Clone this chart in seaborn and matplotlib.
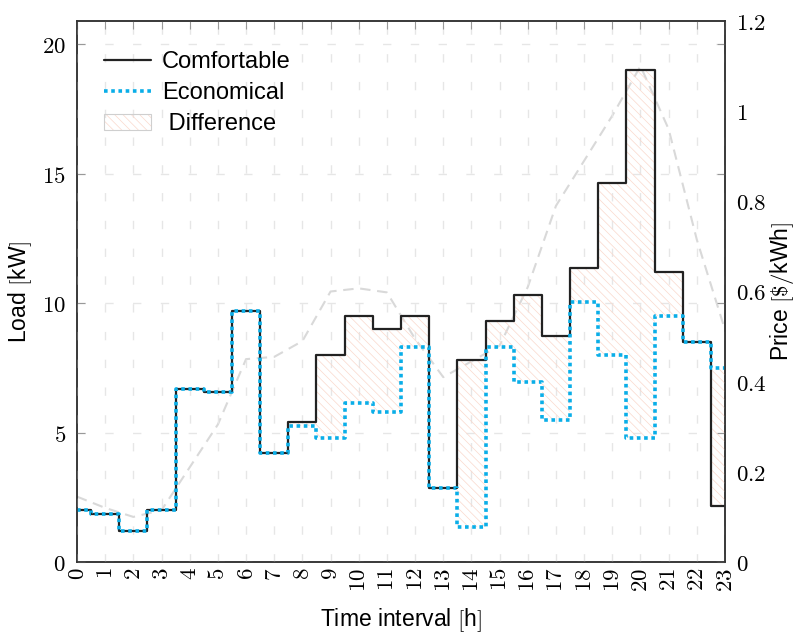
import matplotlib
matplotlib.use('Agg')
import matplotlib.pyplot as plt
import numpy as np
import pandas as pd
import seaborn as sns
from matplotlib.patches import Patch
from matplotlib.lines import Line2D
from matplotlib.ticker import FuncFormatter, FixedLocator

# ---- data ----
hours = list(range(24))
comfortable = [2.0, 1.85, 1.2, 2.0, 6.7, 6.55, 9.7, 4.2, 5.4, 8.0, 9.5, 9.0,
               9.5, 2.85, 7.8, 9.3, 10.3, 8.75, 11.35, 14.65, 19.0, 11.2, 8.5, 2.15]
economical = [2.0, 1.85, 1.2, 2.0, 6.7, 6.55, 9.7, 4.2, 5.25, 4.8, 6.15, 5.8,
              8.3, 2.85, 1.35, 8.3, 6.95, 5.5, 10.05, 8.0, 4.8, 9.5, 8.5, 7.5]
price = [0.145, 0.12, 0.10, 0.115, 0.21, 0.305, 0.45, 0.455, 0.49, 0.60, 0.607, 0.598,
         0.495, 0.41, 0.445, 0.48, 0.61, 0.79, 0.89, 0.99, 1.10, 0.96, 0.715, 0.515]
load_ticks = [0, 5, 10, 15, 20]
price_ticks = [0, 0.2, 0.4, 0.6, 0.8, 1.0, 1.2]
series_labels = ['Comfortable', 'Economical', ' Difference']

df = pd.DataFrame({'hour': hours, 'comfortable': comfortable,
                   'economical': economical, 'price': price})

sns.set_style('white')
plt.rcParams['font.family'] = ['Liberation Sans', 'DejaVu Sans']
plt.rcParams['mathtext.fontset'] = 'cm'
plt.rcParams['hatch.linewidth'] = 0.5
plt.rcParams['text.color'] = 'black'
plt.rcParams['axes.labelcolor'] = 'black'
plt.rcParams['xtick.labelcolor'] = 'black'
plt.rcParams['ytick.labelcolor'] = 'black'

FS = 16.5
HATCH_C = '#fad8cc'
fig = plt.figure(figsize=(8.01, 6.41), dpi=100)
ax = fig.add_axes([77 / 801, 79 / 641, 648 / 801, 541 / 641])
ax2 = ax.twinx()
ax.set_zorder(ax2.get_zorder() + 1)
ax.patch.set_visible(False)

# price (secondary axis)
sns.lineplot(data=df, x='hour', y='price', ax=ax2, color='#d9d9d9', lw=1.5)
for ln in ax2.get_lines():
    ln.set_linestyle((0, (5, 3.2)))
ax2.set_ylim(0, 1.2)
ax2.set_xlim(0, 23)

# difference hatch
ax.fill_between(df['hour'], df['economical'], df['comfortable'], step='mid',
                facecolor='none', edgecolor=HATCH_C, hatch='\\\\\\\\', linewidth=0)

sns.lineplot(data=df, x='hour', y='comfortable', ax=ax, color='#222222', lw=1.6,
             drawstyle='steps-mid')
sns.lineplot(data=df, x='hour', y='economical', ax=ax, color='#0aaee8', lw=2.6,
             drawstyle='steps-mid')
lines = ax.get_lines()
lines[-1].set_linestyle((0, (1, 1)))
lines[-1].set_dash_capstyle('butt')

ax.set_xlim(0, 23)
ax.set_ylim(0, 20.9)

# grid
ax.xaxis.set_major_locator(FixedLocator(hours))
ax.yaxis.set_major_locator(FixedLocator(load_ticks))
ax.grid(True, color='#e6e6e6', lw=1.0, linestyle=(0, (6, 14)))
ax.set_axisbelow(True)

mathfmt = FuncFormatter(lambda v, p: '$%g$' % v)
ax.xaxis.set_major_formatter(mathfmt)
ax.yaxis.set_major_formatter(mathfmt)
ax2.yaxis.set_major_locator(FixedLocator(price_ticks))
ax2.yaxis.set_major_formatter(mathfmt)

ax.tick_params(axis='x', direction='in', length=6, color='#999999', top=True,
               labelsize=FS, labelrotation=90, pad=4)
ax.tick_params(axis='y', direction='in', length=6, color='#999999', right=True,
               labelsize=FS, pad=8)
ax2.tick_params(axis='y', length=0, labelsize=FS, pad=8)

for a in (ax, ax2):
    for s in a.spines.values():
        s.set_color('#333333')
        s.set_linewidth(1.1)

ax.set_xlabel('Time interval $[$h$]$', fontsize=FS, labelpad=10)
ax.set_ylabel('Load $[$kW$]$', fontsize=FS, labelpad=6)
ax2.set_ylabel('Price $[\\$/$kWh$]$', fontsize=FS, labelpad=1)

handles = [
    Line2D([], [], color='#222222', lw=1.6),
    Line2D([], [], color='#0aaee8', lw=2.6, linestyle=(0, (1, 1)), dash_capstyle='butt'),
    (Patch(facecolor='none', edgecolor=HATCH_C, hatch='\\\\\\\\', linewidth=0),
     Patch(facecolor='none', edgecolor='#cfcfcf', linewidth=0.8)),
]
ax.legend(handles, series_labels, loc='upper left', bbox_to_anchor=(0.02, 0.97),
          frameon=False, fontsize=FS + 0.5, handlelength=2.0, handletextpad=0.45,
          labelspacing=0.38, borderaxespad=0.2)

fig.savefig('out.png', dpi=100)
